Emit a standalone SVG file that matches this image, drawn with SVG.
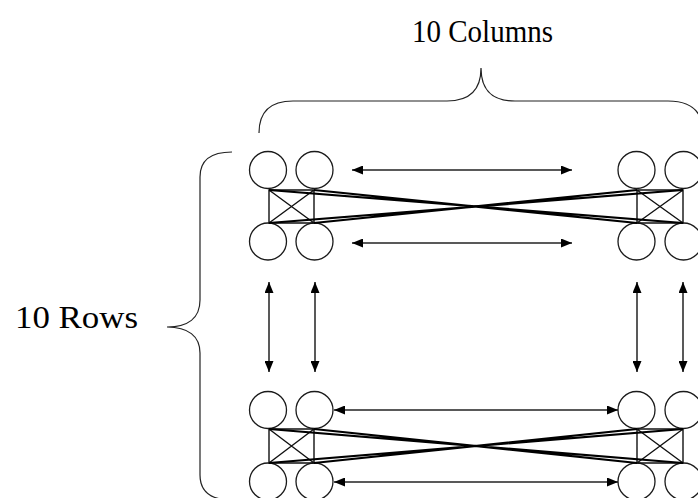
<svg xmlns="http://www.w3.org/2000/svg" width="698" height="498" viewBox="0 0 698 498">
  <style>
    .bg { fill: #ffffff; }
    .cell { fill: none; stroke: #1a1a1a; stroke-width: 1.3; }
    .frame { fill: none; stroke: #111; stroke-width: 1.4; }
    .link { fill: none; stroke: #000; stroke-width: 2.2; }
    .arrow { fill: none; stroke: #222; stroke-width: 1.5; marker-start: url(#head); marker-end: url(#head); }
    .brace { fill: none; stroke: #222; stroke-width: 1.2; }
    .label { font-family: "Liberation Serif", "Times New Roman", serif; font-size: 32px; fill: #000; }
  </style>
  <defs>
    <marker id="head" viewBox="0 0 11 9" refX="11" refY="4.5" markerWidth="11" markerHeight="9" markerUnits="userSpaceOnUse" orient="auto-start-reverse">
      <path d="M0,0 L11,4.5 L0,9 z" fill="#000"/>
    </marker>
  </defs>
  <rect class="bg" x="0" y="0" width="698" height="498"/>

  <!-- labels and braces -->
  <text class="label" x="412" y="42" textLength="141" lengthAdjust="spacingAndGlyphs">10 Columns</text>
  <text class="label" x="15" y="328" textLength="123" lengthAdjust="spacingAndGlyphs">10 Rows</text>
  <path class="brace" d="M259,133 C259,112 270,101 293,101 L447,101 C467,101 481,93 481,68 C481,93 495,101 515,101 L668,101 C691,101 703,112 703,133"/>
  <path class="brace" d="M232,152 C212,152 200,160 200,177 L200,300 C200,318 188,327 167,327 C188,327 200,336 200,353 L200,475 C200,492 212,500 232,500"/>

  <!-- top-left 2x2 block -->
  <g id="block-top-left">
    <circle class="cell" cx="268" cy="170" r="18.5"/>
    <circle class="cell" cx="314.5" cy="170" r="18.5"/>
    <circle class="cell" cx="268" cy="241.5" r="18.5"/>
    <circle class="cell" cx="314.5" cy="241.5" r="18.5"/>
    <path class="frame" d="M269,190 H314 V223 H269 Z M269,190 L314,223 M314,190 L269,223"/>
  </g>

  <!-- top-right 2x2 block -->
  <g id="block-top-right">
    <circle class="cell" cx="636.5" cy="170" r="18.5"/>
    <circle class="cell" cx="683.5" cy="170" r="18.5"/>
    <circle class="cell" cx="636.5" cy="241.5" r="18.5"/>
    <circle class="cell" cx="683.5" cy="241.5" r="18.5"/>
    <path class="frame" d="M637,190 H683 V223 H637 Z M637,190 L683,223 M683,190 L637,223"/>
  </g>

  <!-- bottom-left 2x2 block -->
  <g id="block-bottom-left">
    <circle class="cell" cx="268" cy="410" r="18.5"/>
    <circle class="cell" cx="314.5" cy="410" r="18.5"/>
    <circle class="cell" cx="268" cy="481.5" r="18.5"/>
    <circle class="cell" cx="314.5" cy="481.5" r="18.5"/>
    <path class="frame" d="M269,429 H314 V463 H269 Z M269,429 L314,463 M314,429 L269,463"/>
  </g>

  <!-- bottom-right 2x2 block -->
  <g id="block-bottom-right">
    <circle class="cell" cx="636.5" cy="410" r="18.5"/>
    <circle class="cell" cx="683.5" cy="410" r="18.5"/>
    <circle class="cell" cx="636.5" cy="481.5" r="18.5"/>
    <circle class="cell" cx="683.5" cy="481.5" r="18.5"/>
    <path class="frame" d="M637,429 H683 V463 H637 Z M637,429 L683,463 M683,429 L637,463"/>
  </g>

  <g id="connectors">
    <!-- wrap-around links crossing between the left and right blocks -->
    <path class="link" d="M269,190 L683,223 M314,190 L637,223 M269,223 L683,190 M314,223 L637,190"/>
    <path class="link" d="M269,429 L683,463 M314,429 L637,463 M269,463 L683,429 M314,463 L637,429"/>
    <!-- row links -->
    <line class="arrow" x1="352" y1="170" x2="572" y2="170"/>
    <line class="arrow" x1="352" y1="243" x2="572" y2="243"/>
    <line class="arrow" x1="334" y1="410" x2="618" y2="410"/>
    <line class="arrow" x1="334" y1="482" x2="618" y2="482"/>
    <!-- column links -->
    <line class="arrow" x1="269" y1="282" x2="269" y2="372"/>
    <line class="arrow" x1="315" y1="282" x2="315" y2="372"/>
    <line class="arrow" x1="637" y1="282" x2="637" y2="372"/>
    <line class="arrow" x1="683" y1="282" x2="683" y2="372"/>
  </g>
</svg>
